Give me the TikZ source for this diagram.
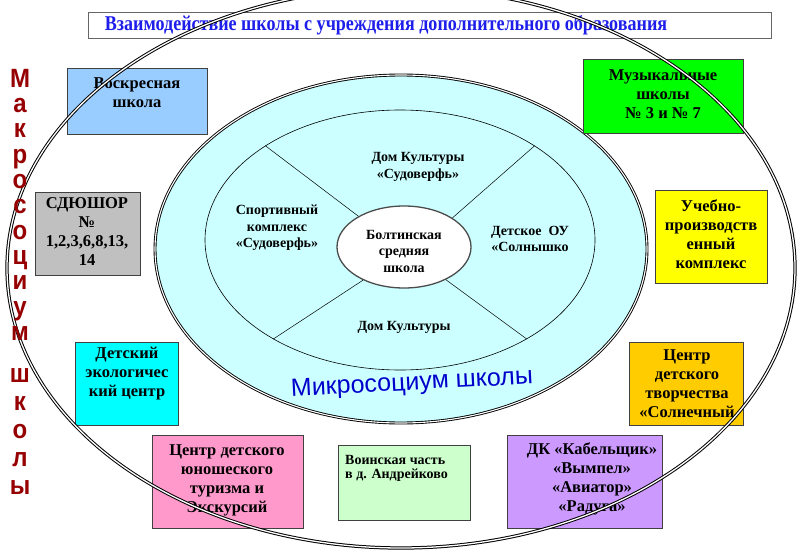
\documentclass[tikz,border=0pt]{standalone}
\usepackage{fontspec}
\usepackage{graphicx}
\setmainfont{Liberation Serif}
\newfontfamily\sansru{Liberation Sans}
\usetikzlibrary{shapes.geometric}
\definecolor{voskblue}{RGB}{153,204,255}
\definecolor{musgreen}{RGB}{0,255,0}
\definecolor{sdgray}{RGB}{192,192,192}
\definecolor{ucyellow}{RGB}{255,255,0}
\definecolor{ecocyan}{RGB}{0,255,255}
\definecolor{cdtgold}{RGB}{255,204,0}
\definecolor{tourpink}{RGB}{255,153,204}
\definecolor{voingreen}{RGB}{204,255,204}
\definecolor{dkpurple}{RGB}{204,153,255}
\definecolor{microcyan}{RGB}{204,255,255}
\definecolor{titleblue}{RGB}{30,30,235}
\definecolor{microblue}{RGB}{0,0,204}
\definecolor{macrored}{RGB}{150,0,0}
\begin{document}
\begin{tikzpicture}[x=1pt,y=-1pt,
  box/.style={draw=black!75, line width=0.7pt, inner sep=0pt, anchor=north west},
  boxtext/.style={font=\bfseries\fontsize{16.5}{19}\selectfont, align=center, inner sep=0pt},
  innertext/.style={font=\bfseries\fontsize{14}{16.5}\selectfont, align=center, inner sep=0pt},
  ell/.style={ellipse, inner sep=0pt},
  dblline/.style={draw=black, line width=0.9pt, double=white, double distance=1.1pt},
  divider/.style={draw=black, line width=0.5pt}]
\useasboundingbox (0,0) rectangle (800,551);
\fill[white] (0,0) rectangle (800,551);
% title
\node[draw=black!60, line width=0.8pt, fill=white, minimum width=683pt, minimum height=26pt, inner sep=0pt, anchor=north west] (titlebox) at (88,12) {};
\node[font=\bfseries\fontsize{21}{23}\selectfont, text=titleblue, inner sep=0pt] (title) at (386,25) {\scalebox{0.86}[1]{Взаимодействие школы с учреждения дополнительного образования}};
% micro ellipse
\node[ell, dblline, fill=microcyan, minimum width=492pt, minimum height=348pt] (micro) at (401,249) {};
\node[ell, draw=black, line width=0.6pt, minimum width=390pt, minimum height=260pt] (ring) at (400,240) {};
\node[ell, draw=gray!60!black, line width=1.3pt, fill=white, minimum width=134pt, minimum height=82pt] (bolt) at (404,247) {};
\draw[divider] (bolt.146) -- (ring.145);
\draw[divider] (bolt.31) -- (ring.35);
\draw[divider] (bolt.219) -- (ring.218);
\draw[divider] (bolt.322) -- (ring.322);
\node[innertext] (boltt) at (404,251) {Болтинская\\средняя\\школа};
\node[innertext] (dkcult1) at (418,167) {Дом Культуры\\«Судоверфь»};
\node[innertext] (sport) at (277,228) {Спортивный\\комплекс\\«Судоверфь»};
\node[innertext] (detou) at (530,239) {Детское~ ОУ\\«Солнышко};
\node[innertext] (dkcult2) at (404,327) {Дом Культуры};
\node[font=\sansru\fontsize{25}{25}\selectfont, text=microblue, rotate=3, inner sep=0pt] (microt) at (412,384) {Микросоциум школы};
% boxes
\node[box, fill=voskblue, minimum width=140pt, minimum height=66pt] (vosk) at (67,68) {};
\node[boxtext] (voskt) at (137,93) {Воскресная\\школа};
\node[box, fill=musgreen, minimum width=160pt, minimum height=74pt] (mus) at (583,59) {};
\node[boxtext] (must) at (663,94) {Музыкальные\\школы\\№ 3 и № 7};
\node[box, fill=sdgray, minimum width=105pt, minimum height=83pt] (sd) at (35,192) {};
\node[boxtext] (sdt) at (87,232) {СДЮШОР\\№\\1,2,3,6,8,13,\\14};
\node[box, fill=ucyellow, minimum width=112pt, minimum height=93pt] (uch) at (655,190) {};
\node[boxtext] (ucht) at (711,234) {Учебно-\\производств\\енный\\комплекс};
\node[box, fill=ecocyan, minimum width=103pt, minimum height=83pt] (eco) at (75,342) {};
\node[boxtext] (ecot) at (127,374) {Детский\\экологичес\\кий центр};
\node[box, fill=cdtgold, minimum width=114pt, minimum height=83pt] (cdt) at (629,342) {};
\node[boxtext] (cdtt) at (687,384) {Центр\\детского\\творчества\\«Солнечный};
\node[box, fill=tourpink, minimum width=151pt, minimum height=93pt] (tour) at (152,435) {};
\node[boxtext] (tourt) at (227,480) {Центр детского\\юношеского\\туризма и\\Экскурсий};
\node[box, fill=voingreen, minimum width=132pt, minimum height=75pt] (voin) at (338,445) {};
\node[font=\bfseries\fontsize{14}{14.5}\selectfont, align=left, inner sep=0pt, anchor=north west] (voint) at (345,455) {Воинская часть\\в д. Андрейково};
\node[box, fill=dkpurple, minimum width=155pt, minimum height=93pt] (dk) at (507,435) {};
\node[boxtext] (dkt) at (592,479) {ДК «Кабельщик»\\«Вымпел»\\«Авиатор»\\«Радуга»};
% macro ellipse
\node[ell, dblline, line width=1pt, double distance=1.3pt, minimum width=788pt, minimum height=560pt] (macro) at (401,268) {};
\node[font=\sansru\bfseries\fontsize{24}{23}\selectfont, text=macrored, align=center, inner sep=0pt, anchor=north, yscale=1.1] (macrot) at (20,69) {М\\а\\к\\р\\о\\с\\о\\ц\\и\\у\\м\\[15pt]ш\\[2.5pt]к\\[2.5pt]о\\[2.5pt]л\\[2.5pt]ы};
\end{tikzpicture}
\end{document}
